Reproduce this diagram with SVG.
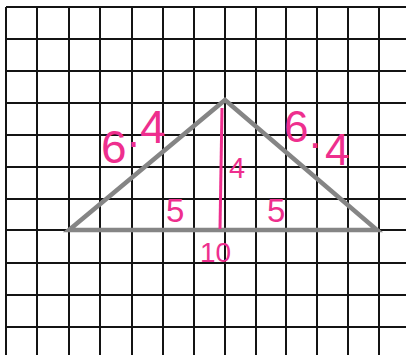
<svg xmlns="http://www.w3.org/2000/svg" width="406" height="355" viewBox="0 0 406 355">
<style>
.grid line{stroke:#141414;stroke-width:2}
.tri{fill:none;stroke:#858585;stroke-width:4.5;stroke-linejoin:miter}
.lbl{fill:#ee2f8e;font-family:"Liberation Sans","DejaVu Sans",sans-serif}
</style>
<rect width="406" height="355" fill="#fff"/>
<g id="grid" class="grid">
<line x1="6" y1="7" x2="6" y2="355"/>
<line x1="37" y1="7" x2="37" y2="355"/>
<line x1="69" y1="7" x2="69" y2="355"/>
<line x1="100" y1="7" x2="100" y2="355"/>
<line x1="132" y1="7" x2="132" y2="355"/>
<line x1="163" y1="7" x2="163" y2="355"/>
<line x1="194" y1="7" x2="194" y2="355"/>
<line x1="225" y1="7" x2="225" y2="355"/>
<line x1="256" y1="7" x2="256" y2="355"/>
<line x1="286" y1="7" x2="286" y2="355"/>
<line x1="317" y1="7" x2="317" y2="355"/>
<line x1="348" y1="7" x2="348" y2="355"/>
<line x1="379" y1="7" x2="379" y2="355"/>
<line x1="6" y1="7" x2="406" y2="7"/>
<line x1="6" y1="39" x2="406" y2="39"/>
<line x1="6" y1="71" x2="406" y2="71"/>
<line x1="6" y1="103" x2="406" y2="103"/>
<line x1="6" y1="135" x2="406" y2="135"/>
<line x1="6" y1="167" x2="406" y2="167"/>
<line x1="6" y1="199" x2="406" y2="199"/>
<line x1="6" y1="230" x2="406" y2="230"/>
<line x1="6" y1="263" x2="406" y2="263"/>
<line x1="6" y1="295" x2="406" y2="295"/>
<line x1="6" y1="327" x2="406" y2="327"/>
</g>
<g id="triangle">
<polygon class="tri" points="69,230 225,100 377,230"/>
</g>
<g id="height">
<line x1="222" y1="108" x2="220" y2="229" stroke="#ee2f8e" stroke-width="3"/>
</g>
<g id="labels" class="lbl">
<text font-size="46"><tspan x="101" y="163">6</tspan><tspan x="127" y="147">.</tspan><tspan x="140" y="143">4</tspan></text>
<text font-size="44"><tspan x="284" y="142">6</tspan><tspan x="309" y="148">.</tspan><tspan x="325" y="165">4</tspan></text>
<text x="229" y="178" font-size="29">4</text>
<text x="166" y="222" font-size="33">5</text>
<text x="267" y="222" font-size="33">5</text>
<text x="200" y="262" font-size="28">10</text>
</g>
</svg>
